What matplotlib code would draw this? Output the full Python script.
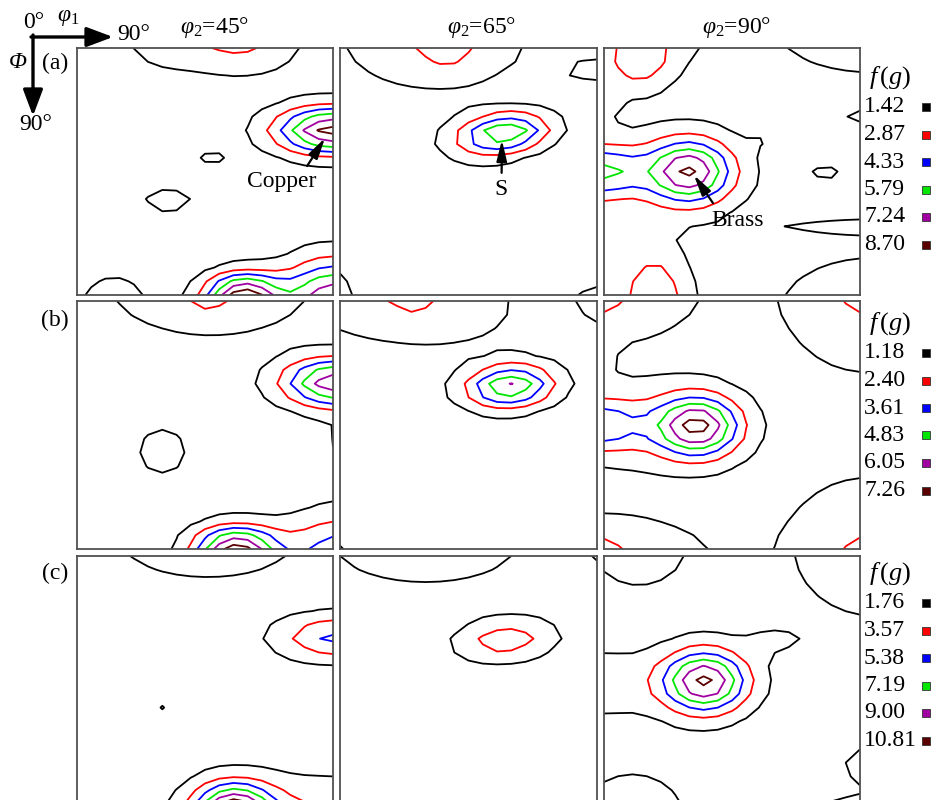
import numpy as np
import matplotlib
matplotlib.use("Agg")
import matplotlib.pyplot as plt
from matplotlib.patches import Rectangle, FancyArrowPatch

plt.rcParams['font.family'] = ['Liberation Serif', 'DejaVu Serif']
plt.rcParams['mathtext.fontset'] = 'custom'
plt.rcParams['mathtext.rm'] = 'Liberation Serif'
plt.rcParams['mathtext.it'] = 'Liberation Serif:italic'
plt.rcParams['mathtext.bf'] = 'Liberation Serif:bold'

# ---------------------------------------------------------------- data
phi2_titles = [r'$\varphi_2$=45°', r'$\varphi_2$=65°', r'$\varphi_2$=90°']
row_labels = ['(a)', '(b)', '(c)']

levels_a = [1.42, 2.87, 4.33, 5.79, 7.24, 8.70]
levels_b = [1.18, 2.40, 3.61, 4.83, 6.05, 7.26]
levels_c = [1.76, 3.57, 5.38, 7.19, 9.00, 10.81]
level_labels_a = ['1.42', '2.87', '4.33', '5.79', '7.24', '8.70']
level_labels_b = ['1.18', '2.40', '3.61', '4.83', '6.05', '7.26']
level_labels_c = ['1.76', '3.57', '5.38', '7.19', '9.00', '10.81']
level_colors = ['#000000', '#ff0000', '#0000ff', '#00e600', '#a000a0', '#5a0000']

# ODF sections: background intensity plus texture components
# (phi1, Phi, intensity, spread_phi1, spread_Phi, tilt)
base_a45 = 0.6
peaks_a45 = [(90, 30, 8.8, 14, 5.8, 0), (58.5, 90, 9.3, 9.3, 5.2, 0),
             (90, 92, 8.0, 12, 10, 0), (57, -2, 2.6, 14, 8, 0),
             (30, -2, 1.3, 10, 7, 0), (47.5, 40, 1.6, 3, 1.5, 0),
             (32, 55.5, 1.2, 9, 5, 0), (13, 92, 1.4, 10, 8, 0)]
base_a65 = 0.6
peaks_a65 = [(60, 30.5, 5.2, 10, 4.6, -6), (50, 33, 2.3, 10.5, 5.8, -6),
             (33, -3, 2.2, 22, 12.5, 0), (38, -1, 1.2, 6, 6, 0),
             (92, 8, 1.3, 12, 3.5, 0), (-2, 92, 1.2, 7.5, 12, 0),
             (92, 92, 1.4, 9, 5, 0)]
base_a90 = 0.6
peaks_a90 = [(30, 45, 7.2, 10, 7.8, 0), (-2, 45, 5.2, 11, 6.7, 0),
             (12, 4, 3.2, 8.5, 8, 0), (22, -5, 0.9, 14, 9, 0),
             (-2, 19, 1.5, 4, 3, 0), (-3, 22, 0.9, 6, 7, 0),
             (25, 45, 1.3, 20, 12, 0), (18, 93, 3.6, 8, 14, 0),
             (-3, 66, 1.0, 9, 7, 0), (-3, 84, 1.0, 9, 8, 0),
             (95, -5, 1.6, 28, 12, 0), (95, 95, 1.6, 28, 16, 0),
             (78, 46, 1.2, 5, 3, 0), (95, 25, 1.5, 8, 1.5, 0),
             (100, 65, 1.3, 30, 1.5, 0), (58, 32, 0.8, 5, 3, 0)]
base_b45 = 0.5
peaks_b45 = [(91, 29.5, 6.6, 13, 6, 0), (95, 52, 1.0, 6, 8, 0),
             (56, 90, 7.5, 10.2, 5.5, 0), (92, 92, 3.9, 13, 10, 0),
             (47, -5, 1.9, 24, 12, 0), (46, -2, 0.8, 4, 4, 0),
             (30, 54.5, 1.0, 9, 9, 0)]
base_b65 = 0.5
peaks_b65 = [(59.5, 31, 5.65, 10.7, 5.2, -4), (18, -4, 1.9, 29, 13, 10),
             (26, -2, 0.9, 4, 4, 0), (95, -3, 1.2, 10, 10, 0),
             (-3, 93, 1.0, 6, 6, 0)]
base_b90 = 0.5
peaks_b90 = [(33, 45.5, 6.6, 10.2, 7.5, 0), (-3, 45, 3.4, 11, 6.5, 0),
             (0, 0, 1.2, 4, 3, 0), (-2, -2, 1.6, 26, 13, 0),
             (-3, 22, 0.6, 5, 6, 0), (15, 45, 1.3, 20, 12, 0),
             (92, -2, 1.6, 22, 21, 0), (90, 0, 1.0, 4, 3, 0),
             (92, 92, 1.6, 22, 21, 0), (90, 90, 1.0, 4, 3, 0),
             (-2, 92, 1.6, 28, 11, 0), (0, 90, 1.2, 4, 3, 0)]
base_c45 = 0.8
peaks_c45 = [(91, 29.5, 5.0, 14, 5.5, 0), (55, 93, 11.2, 9.5, 7, 0),
             (85, 95, 3.0, 28, 10, 0), (46, -4, 2.0, 24, 9.5, 0),
             (30, 55, 1.1, 1.5, 1.5, 0)]
base_c65 = 0.8
peaks_c65 = [(58, 30.5, 4.0, 11.5, 5.0, -5), (30, -4, 1.8, 28, 12, 0),
             (92, -1, 1.5, 3, 3, 0)]
base_c90 = 0.8
peaks_c90 = [(35.5, 45.5, 10.4, 10.3, 7.8, 0), (-3, 46, 1.4, 10, 8, 0),
             (10, 46, 1.0, 15, 9, 0), (60, 31, 1.4, 7, 3, 0),
             (12, -3, 1.8, 14, 12, 0), (95, -3, 1.8, 25, 22, 0),
             (95, 76, 1.8, 9, 6, 0), (92, 95, 2.2, 18, 5, 0),
             (10, 95, 1.8, 16, 14, 0)]

# texture component markers: (row, col, label, arrow head, arrow tail, label pos)
components = [(0, 0, 'Copper', (87.2, 32.8), (80.9, 43.0), (72.0, 48.5)),
              (0, 1, 'S', (56.7, 33.5), (56.6, 45.5), (56.4, 51.4)),
              (0, 2, 'Brass', (31.6, 46.3), (38.3, 56.5), (47.1, 62.7))]

phi1_grid = np.arange(0, 91, 5)
Phi_grid = np.arange(0, 91, 5)

sections = [[(base_a45, peaks_a45), (base_a65, peaks_a65), (base_a90, peaks_a90)],
            [(base_b45, peaks_b45), (base_b65, peaks_b65), (base_b90, peaks_b90)],
            [(base_c45, peaks_c45), (base_c65, peaks_c65), (base_c90, peaks_c90)]]
row_levels = [levels_a, levels_b, levels_c]
row_level_labels = [level_labels_a, level_labels_b, level_labels_c]


def odf_section(base, peaks):
    X, Y = np.meshgrid(phi1_grid, Phi_grid)
    Z = np.full(X.shape, base, dtype=float)
    for x0, y0, h, sx, sy, tilt in peaks:
        t = np.deg2rad(tilt)
        dx, dy = X - x0, Y - y0
        u = dx * np.cos(t) + dy * np.sin(t)
        v = -dx * np.sin(t) + dy * np.cos(t)
        Z += h * np.exp(-0.5 * ((u / sx) ** 2 + (v / sy) ** 2))
    return X, Y, Z


# ---------------------------------------------------------------- layout (pixels)
W, H = 935, 800
fig = plt.figure(figsize=(W / 100, H / 100), dpi=100)
col_x = [77, 340, 604]
col_w = [256, 257, 256]
row_y = [48, 301, 556]
row_h = [247, 248, 248]
FS = 17


def fx(px):
    return px / W


def fy(py):
    return 1 - py / H


axes = {}
for r in range(3):
    for c in range(3):
        ax = fig.add_axes([fx(col_x[c]), fy(row_y[r] + row_h[r]),
                           col_w[c] / W, row_h[r] / H])
        base, peaks = sections[r][c]
        X, Y, Z = odf_section(base, peaks)
        ax.contour(X, Y, Z, levels=row_levels[r], colors=level_colors,
                   linewidths=1.3)
        ax.set_xlim(0, 90)
        ax.set_ylim(90, 0)
        ax.set_xticks([])
        ax.set_yticks([])
        for s in ax.spines.values():
            s.set_color('#505050')
            s.set_linewidth(1.3)
        axes[(r, c)] = ax

for r, c, name, head, tail, pos in components:
    ax = axes[(r, c)]
    ax.annotate('', xy=head, xytext=tail,
                arrowprops=dict(arrowstyle='-|>,head_length=0.9,head_width=0.22',
                                color='k', lw=1.6, mutation_scale=14,
                                shrinkA=0, shrinkB=0))
    ax.text(pos[0], pos[1], name, ha='center', va='center', fontsize=FS)

# column titles
title_x = [215, 482, 737]
for c in range(3):
    fig.text(fx(title_x[c]), fy(28), phi2_titles[c], ha='center', va='center',
             fontsize=FS)

# row labels
label_y = [63, 320, 573]
for r in range(3):
    fig.text(fx(55), fy(label_y[r]), row_labels[r], ha='center', va='center',
             fontsize=FS)

# Euler angle axes key
fig.add_artist(FancyArrowPatch((fx(31), fy(37)), (fx(113), fy(37)),
                               transform=fig.transFigure,
                               arrowstyle='-|>,head_length=0.8,head_width=0.3',
                               mutation_scale=20, color='k', lw=2.4,
                               shrinkA=0, shrinkB=0))
fig.add_artist(FancyArrowPatch((fx(33), fy(35)), (fx(33), fy(116)),
                               transform=fig.transFigure,
                               arrowstyle='-|>,head_length=0.8,head_width=0.3',
                               mutation_scale=20, color='k', lw=2.4,
                               shrinkA=0, shrinkB=0))
fig.text(fx(34), fy(22), '0°', ha='center', va='center', fontsize=FS)
fig.text(fx(68), fy(18), r'$\varphi_1$', ha='center', va='center', fontsize=FS)
fig.text(fx(134), fy(35), '90°', ha='center', va='center', fontsize=FS)
fig.text(fx(18), fy(63), 'Φ', ha='center', va='center', fontsize=FS,
         style='italic')
fig.text(fx(36), fy(124), '90°', ha='center', va='center', fontsize=FS)

# intensity level keys
key_top = [78, 324, 574]
for r in range(3):
    fig.text(fx(890), fy(key_top[r]), r'$f\,(g)$', ha='center', va='center',
             fontsize=19)
    for i, (lab, col) in enumerate(zip(row_level_labels[r], level_colors)):
        yc = key_top[r] + 29 + i * 27.5
        fig.text(fx(864), fy(yc), lab, ha='left', va='center', fontsize=FS)
        sq = 8
        fig.add_artist(Rectangle((fx(926 - sq / 2), fy(yc + sq / 2)), sq / W, sq / H,
                                 transform=fig.transFigure, facecolor=col,
                                 edgecolor='#333333', lw=0.6))

fig.savefig('out.png', dpi=100, facecolor='white')
